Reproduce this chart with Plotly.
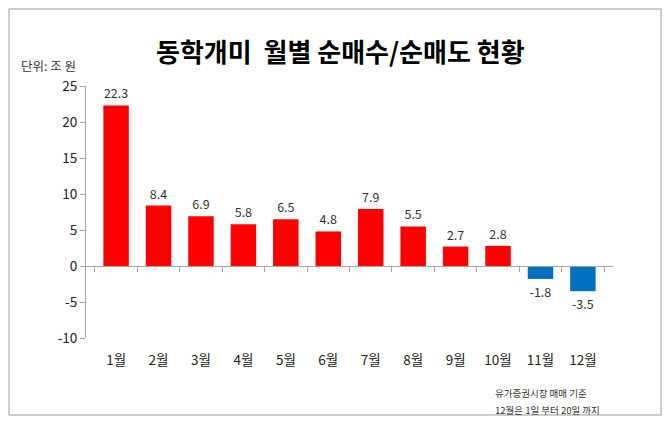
import plotly.graph_objects as go

months = ['1월', '2월', '3월', '4월', '5월', '6월', '7월', '8월', '9월', '10월', '11월', '12월']
net_buy = [22.3, 8.4, 6.9, 5.8, 6.5, 4.8, 7.9, 5.5, 2.7, 2.8, -1.8, -3.5]
y_ticks = [-10, -5, 0, 5, 10, 15, 20, 25]

font = 'Noto Sans CJK KR'
# page body has an 8px margin, so the figure is drawn 8px in from the window
OFF = 8
W, H = 670 - 2 * OFF, 424 - 2 * OFF
ml, mr, mt, mb = 86 - OFF, 670 - 613 - OFF, 86 - OFF, 424 - 338 - OFF
y_min, y_max = -10, 25
pw, ph = W - ml - mr, H - mt - mb


def px_x(x):
    return (x - OFF - ml) / pw


def px_y(y):
    return (H - mb - (y - OFF)) / ph


colors = ['#FF0000' if v >= 0 else '#0070C0' for v in net_buy]

fig = go.Figure()
fig.add_trace(go.Bar(x=months, y=net_buy, marker_color=colors, marker_line_width=0,
                     text=[f'{v:.1f}' for v in net_buy], textposition='outside',
                     textfont=dict(size=12.5, color='#333333', family=font),
                     cliponaxis=False, showlegend=False))
# invisible trace so the zero-line axis gets drawn
fig.add_trace(go.Scatter(x=months, y=[0] * len(months), xaxis='x2', mode='markers',
                         marker_opacity=0, showlegend=False, hoverinfo='skip'))

fig.update_layout(
    width=W, height=H,
    margin=dict(l=ml, r=mr, t=mt, b=mb),
    paper_bgcolor='white', plot_bgcolor='white',
    font=dict(family=font, color='#222222'),
    bargap=0.4,
    xaxis=dict(showline=False, ticks='', showgrid=False, tickfont=dict(size=13.5, color='#222222'),
               ticklabelstandoff=12),
    xaxis2=dict(overlaying='x', matches='x', anchor='free', position=(0 - y_min) / (y_max - y_min),
                showline=True, linecolor='#a6a6a6', linewidth=1, ticks='outside', tickson='boundaries',
                ticklen=5, tickcolor='#a6a6a6', showticklabels=False, showgrid=False),
    yaxis=dict(range=[y_min, y_max], tickvals=y_ticks, ticktext=[str(t) for t in y_ticks],
               showgrid=False, zeroline=False,
               showline=True, linecolor='#a6a6a6', linewidth=1, ticks='outside', ticklen=5,
               tickcolor='#a6a6a6', tickfont=dict(size=13.5, color='#222222')),
)

# light frame round the whole chart, kept inside the figure so it is not clipped
fig.add_shape(type='rect', xref='paper', yref='paper',
              x0=px_x(OFF + 1), x1=px_x(OFF + W - 1),
              y0=px_y(OFF + H - 1), y1=px_y(OFF + 1),
              line=dict(color='#bfbfbf', width=1.5))

fig.add_annotation(text='<b>동학개미  월별 순매수/순매도 현황</b>', xref='paper', yref='paper',
                   showarrow=False, x=px_x(340), xanchor='center', y=px_y(50), yanchor='middle',
                   font=dict(size=26, color='#000000'))
fig.add_annotation(text='단위: 조 원', xref='paper', yref='paper', showarrow=False,
                   x=px_x(19), xanchor='left', y=px_y(65), yanchor='middle',
                   font=dict(size=12.5, color='#333333'))
fig.add_annotation(text='유가증권시장 매매 기준', xref='paper', yref='paper',
                   showarrow=False, x=px_x(493), xanchor='left', y=px_y(393), yanchor='middle',
                   font=dict(size=9.5, color='#333333'))
fig.add_annotation(text='12월은 1일 부터 20일 까지', xref='paper', yref='paper',
                   showarrow=False, x=px_x(493), xanchor='left', y=px_y(410), yanchor='middle',
                   font=dict(size=9.5, color='#333333'))

fig.write_html('out.html')
